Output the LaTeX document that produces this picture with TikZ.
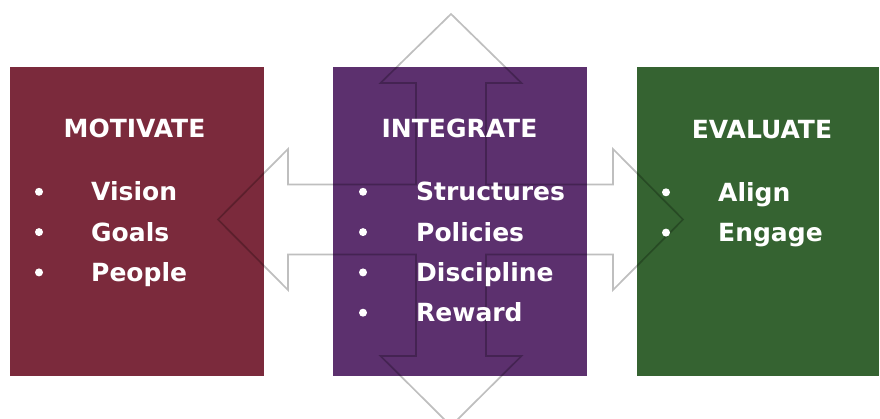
\documentclass[tikz,border=0pt]{standalone}
\usepackage{fontspec}
\newfontfamily\labelfont{DejaVu Sans}
\usetikzlibrary{positioning}
\definecolor{motivatecol}{HTML}{7B2A3C}
\definecolor{integratecol}{HTML}{5C306E}
\definecolor{evaluatecol}{HTML}{356331}
\tikzset{
    box/.style={rectangle,inner sep=0pt,minimum width=254pt,minimum height=309pt},
    arrow outline/.style={draw=black,draw opacity=.25,line width=1.7pt,line join=miter},
    title/.style={text=white,anchor=base,inner sep=0pt},
    item/.style={text=white,anchor=base west,inner sep=0pt},
    dot/.style={circle,fill=white,inner sep=0pt,minimum size=8pt},
}
\tikzstyle{every node}=[font=\labelfont\bfseries\fontsize{25}{30}\selectfont]

\begin{document}
\begin{tikzpicture}[x=1pt,y=-1pt]
        \useasboundingbox (0,0) rectangle (880,419);
        \node[box, fill=motivatecol] (motivate box) at (137,221.5) {};
        \node[box, fill=integratecol] (integrate box) at (460,221.5) {};
        \node[box, fill=evaluatecol, minimum width=242pt] (evaluate box) at (758,221.5) {};

        % four way arrow, drawn over the boxes
        \draw[arrow outline]
            (451,14) -- (521.5,83) -- (486,83) -- (486,184.5)
            -- (613,184.5) -- (613,149) -- (683,219.5) -- (613,290) -- (613,254.5)
            -- (486,254.5) -- (486,356) -- (521.5,356) -- (451,426) -- (380.5,356)
            -- (416,356) -- (416,254.5) -- (288,254.5) -- (288,290) -- (218,219.5)
            -- (288,149) -- (288,184.5) -- (416,184.5) -- (416,83) -- (380.5,83) -- cycle;

        \node[title] (motivate) at (134.5,138) {MOTIVATE};
        \node[title] (integrate) at (459.5,138) {INTEGRATE};
        \node[title] (evaluate) at (762,139) {EVALUATE};

        \foreach \word [count=\i] in {Vision,Goals,People} {
            \node[dot] (motivate dot \i) at (39,{151.5+40.3*\i}) {};
            \node[item] (motivate \i) at (91,{160.5+40.3*\i}) {\word};
        }
        \foreach \word [count=\i] in {Structures,Policies,Discipline,Reward} {
            \node[dot] (integrate dot \i) at (363,{151.5+40.3*\i}) {};
            \node[item] (integrate \i) at (416,{160.5+40.3*\i}) {\word};
        }
        \foreach \word [count=\i] in {Align,Engage} {
            \node[dot] (evaluate dot \i) at (666,{152+40.3*\i}) {};
            \node[item] (evaluate \i) at (718,{161+40.3*\i}) {\word};
        }
    \end{tikzpicture}
\end{document}
